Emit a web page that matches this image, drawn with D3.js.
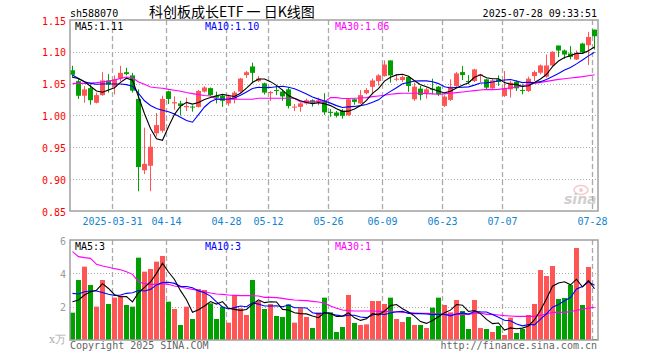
<!DOCTYPE html>
<html><head><meta charset="utf-8">
<script src="https://cdn.jsdelivr.net/npm/d3@7"></script>
<style>body{margin:0;background:#fff}svg{display:block}</style>
</head><body><div id="c"></div>
<script>
const dates=["2025-03-20","2025-03-21","2025-03-24","2025-03-25","2025-03-26","2025-03-27","2025-03-28","2025-03-31",
"2025-04-01","2025-04-02","2025-04-03","2025-04-07","2025-04-08","2025-04-09","2025-04-10","2025-04-11","2025-04-14","2025-04-15","2025-04-16","2025-04-17","2025-04-18","2025-04-21","2025-04-22","2025-04-23","2025-04-24","2025-04-25","2025-04-28","2025-04-29","2025-04-30",
"2025-05-06","2025-05-07","2025-05-08","2025-05-09","2025-05-12","2025-05-13","2025-05-14","2025-05-15","2025-05-16","2025-05-19","2025-05-20","2025-05-21","2025-05-22","2025-05-23","2025-05-26","2025-05-27","2025-05-28","2025-05-29","2025-05-30",
"2025-06-03","2025-06-04","2025-06-05","2025-06-06","2025-06-09","2025-06-10","2025-06-11","2025-06-12","2025-06-13","2025-06-16","2025-06-17","2025-06-18","2025-06-19","2025-06-20","2025-06-23","2025-06-24","2025-06-25","2025-06-26","2025-06-27","2025-06-30",
"2025-07-01","2025-07-02","2025-07-03","2025-07-04","2025-07-07","2025-07-08","2025-07-09","2025-07-10","2025-07-11","2025-07-14","2025-07-15","2025-07-16","2025-07-17","2025-07-18","2025-07-21","2025-07-22","2025-07-23","2025-07-24","2025-07-25","2025-07-28"];
const tickDates=["2025-03-31","2025-04-14","2025-04-28","2025-05-12","2025-05-26","2025-06-09","2025-06-23","2025-07-07","2025-07-28"];
const tickLabels=["2025-03-31","04-14","04-28","05-12","05-26","06-09","06-23","07-07","07-28"];
const openP=[1.071,1.054,1.031,1.043,1.020,1.032,1.055,1.045,1.058,1.068,1.063,1.026,0.914,0.921,0.972,0.976,1.038,1.019,1.019,1.013,1.014,1.0135,1.0375,1.043,1.031,1.031,1.019,1.0255,1.0375,1.0635,1.077,1.054,1.0505,1.035,1.040,1.0375,1.041,1.0125,1.0135,1.019,1.024,1.021,1.022,1.0057,1.0047,1.007,1.0005,1.0255,1.019,1.035,1.045,1.054,1.062,1.0865,1.0568,1.0557,1.0604,1.0255,1.0422,1.0349,1.0422,1.0453,1.0151,1.0245,1.0464,1.0682,1.0542,1.0542,1.063,1.0568,1.0427,1.0568,1.0307,1.0411,1.0531,1.0401,1.0385,1.062,1.0672,1.0609,1.0786,1.1099,1.1021,1.0974,1.088,1.113,1.1104,1.1349];
const highP=[1.078,1.059,1.046,1.049,1.036,1.068,1.065,1.063,1.078,1.075,1.067,1.041,0.981,0.971,1.004,1.031,1.039,1.030,1.023,1.028,1.016,1.040,1.046,1.044,1.0375,1.033,1.033,1.0385,1.059,1.070,1.083,1.062,1.0515,1.0385,1.046,1.041,1.044,1.018,1.020,1.0265,1.0255,1.028,1.035,1.010,1.007,1.010,1.0265,1.0265,1.040,1.043,1.058,1.065,1.0865,1.0865,1.0646,1.063,1.062,1.0516,1.0464,1.0437,1.0578,1.0464,1.0318,1.0568,1.0682,1.0776,1.0635,1.0734,1.0656,1.0578,1.0568,1.063,1.0698,1.0542,1.0552,1.049,1.061,1.0708,1.0802,1.0958,1.101,1.1099,1.1036,1.1089,1.1021,1.1141,1.1313,1.1349];
const lowP=[1.059,1.026,1.020,1.017,1.019,1.031,1.036,1.033,1.054,1.063,1.036,0.881,0.908,0.881,0.967,0.973,1.018,1.009,1.000,1.007,1.006,1.0125,1.036,1.031,1.019,1.0135,1.015,1.019,1.036,1.059,1.052,1.0525,1.033,1.023,1.032,1.023,1.011,1.007,1.006,1.017,1.014,1.016,1.001,0.998,0.997,0.995,0.9995,1.017,1.018,1.033,1.033,1.047,1.061,1.0515,1.054,1.0526,1.037,1.023,1.024,1.0266,1.0333,1.0307,1.0135,1.0229,1.0453,1.0557,1.049,1.0526,1.0526,1.0411,1.0411,1.0464,1.0292,1.0281,1.0385,1.0333,1.037,1.0542,1.0646,1.0594,1.0776,1.0917,1.0891,1.088,1.087,1.0984,1.0792,1.1036];
const closeP=[1.064,1.031,1.041,1.024,1.032,1.055,1.049,1.057,1.067,1.065,1.039,0.919,0.924,0.951,0.985,1.026,1.026,1.021,1.015,1.015,1.0125,1.0385,1.044,1.032,1.028,1.023,1.030,1.036,1.058,1.068,1.067,1.058,1.036,1.037,1.0385,1.030,1.015,1.014,1.019,1.024,1.020,1.024,1.005,1.0047,0.9995,0.9995,1.0255,1.0214,1.032,1.040,1.055,1.063,1.080,1.063,1.0578,1.0604,1.0464,1.0453,1.0323,1.0411,1.0411,1.0333,1.0297,1.0453,1.0661,1.0635,1.0526,1.0724,1.0646,1.0437,1.0552,1.0526,1.0422,1.0516,1.0427,1.039,1.0578,1.0682,1.0786,1.0786,1.100,1.1021,1.0958,1.0922,1.0984,1.0995,1.1234,1.1245];
const volume=[1.64,3.6,4.4,3.3,2.0,3.6,2.16,2.54,2.66,2.1,2.0,4.94,4.1,4.26,4.7,5.04,2.3,1.86,0.9,2.0,1.26,3.06,3.0,2.2,1.26,2.0,1.04,2.7,1.9,1.5,3.6,2.34,1.86,2.16,1.44,1.38,2.14,1.04,1.9,1.38,0.72,1.66,2.54,1.66,0.48,0.78,2.7,1.02,0.9,0.94,2.34,2.34,2.16,2.54,1.26,1.08,1.38,0.9,0.9,0.72,1.94,2.54,2.1,1.66,2.4,1.74,0.66,2.4,0.72,0.66,0.48,0.84,0.3,1.34,0.42,0.66,1.5,2.16,4.2,3.84,4.44,2.46,2.52,3.3,5.52,2.1,4.38,0.06];
// moving-average values before enough history is on the chart
const ma5Head=[1.060,1.058,1.053,1.046];
const ma10Head=[1.0635,1.058,1.053,1.0505,1.049,1.0495,1.0495,1.0495,1.0495];
const ma30P=[1.050,1.0505,1.0505,1.051,1.0516,1.0526,1.054,1.0557,1.0583,1.0604,1.0594,1.0526,1.049,1.0448,1.0437,1.0427,1.0411,1.0396,1.038,1.036,1.0344,1.0328,1.0313,1.0307,1.0255,1.0255,1.0255,1.0255,1.0255,1.0255,1.0255,1.0271,1.0271,1.0271,1.0271,1.0271,1.0271,1.0271,1.0214,1.0214,1.0214,1.0214,1.0214,1.0281,1.0281,1.0266,1.0266,1.027,1.0276,1.0281,1.0297,1.0307,1.0318,1.0333,1.0344,1.0349,1.0349,1.0349,1.0349,1.0344,1.0339,1.0333,1.0339,1.0349,1.036,1.037,1.038,1.0391,1.0401,1.0411,1.0406,1.0411,1.0422,1.0432,1.0443,1.0464,1.049,1.0505,1.052,1.0536,1.0552,1.0568,1.0578,1.0589,1.0599,1.061,1.0625,1.064];
const vma5Head=[2.3,2.4,2.7,2.9];
const vma10Head=[2.8,2.76,2.9,2.94,2.94,2.85,2.75,2.68,2.7];
const vma30=[5.3,5.0,4.94,4.9,4.54,4.44,4.36,4.28,4.22,4.1,3.94,3.5,3.38,3.34,3.34,3.38,3.34,3.24,3.18,3.1,3.04,2.96,2.9,2.82,2.76,2.74,2.7,2.68,2.66,2.66,2.66,2.64,2.56,2.56,2.54,2.5,2.44,2.4,2.38,2.36,2.32,2.28,2.22,2.04,1.9,1.8,1.76,1.74,1.74,1.74,1.74,1.72,1.72,1.7,1.68,1.66,1.64,1.62,1.6,1.6,1.58,1.56,1.54,1.54,1.54,1.54,1.54,1.6,1.62,1.54,1.54,1.5,1.46,1.44,1.42,1.42,1.42,1.42,1.48,1.56,1.66,1.66,1.66,1.7,1.78,1.84,1.92,1.96];
const priceTicks=[0.85,0.90,0.95,1.00,1.05,1.10,1.15];
const volTicks=[2,4,6];

function movingAvg(arr,n,head){return arr.map((v,i)=>i<n-1?head[i]:d3.mean(arr.slice(i-n+1,i+1)));}
const ma5P=movingAvg(closeP,5,ma5Head), ma10P=movingAvg(closeP,10,ma10Head);
const vma5=movingAvg(volume,5,vma5Head), vma10=movingAvg(volume,10,vma10Head);

const W=660,H=360,L=70,R=598,PT=20,PB=211,VT=240,VB=340;
const RED="#ff5555",GREEN="#00a000",FRAME="#a0a0a0",MONO="'DejaVu Sans Mono', monospace";
const svg=d3.select("#c").append("svg").attr("width",W).attr("height",H);
const idx=d3.range(dates.length);
const x=d3.scaleBand().domain(idx).range([L,R]).paddingInner(0).paddingOuter(0);
const y=d3.scaleLinear().domain([0.85,1.15]).range([PB,PT]);
const yv=d3.scaleLinear().domain([0,6]).range([VB,VT]);
const isUp=i=>closeP[i]>=openP[i];

// grids
function grid(scale,ticks,skip){
  svg.append("g").selectAll("line").data(ticks.filter(t=>!skip.includes(t))).join("line")
   .attr("x1",L).attr("x2",R).attr("y1",d=>Math.round(scale(d))+0.5).attr("y2",d=>Math.round(scale(d))+0.5)
   .attr("stroke","#aaa").attr("stroke-width",1).attr("stroke-dasharray","1,2");
}
grid(y,priceTicks,[0.85,1.15]);
grid(yv,volTicks,[6]);
const tickIdx=tickDates.map(d=>dates.indexOf(d));
[[PT,PB],[VT,VB]].forEach(([t,b])=>{
  svg.append("g").selectAll("line").data(tickIdx).join("line")
   .attr("x1",i=>x(i)+0.5).attr("x2",i=>x(i)+0.5).attr("y1",t).attr("y2",b)
   .attr("stroke","#aaa").attr("stroke-width",1.3).attr("stroke-dasharray","5,3");
});

// watermark
const wm=svg.append("g").attr("opacity",0.55);
wm.append("ellipse").attr("cx",581).attr("cy",190).attr("rx",7).attr("ry",4.5).attr("fill","none").attr("stroke","#f0a0a0").attr("stroke-width",1.6);
wm.append("circle").attr("cx",581).attr("cy",190).attr("r",2).attr("fill","#f0a0a0");
wm.append("text").attr("x",564).attr("y",204).attr("font-family","'DejaVu Sans', sans-serif").attr("font-style","italic").attr("font-weight","bold").attr("font-size",14).attr("fill","#aaa").text("sina");

// candles
const cg=svg.append("g");
cg.selectAll("line").data(idx).join("line")
 .attr("x1",i=>x(i)+2.5).attr("x2",i=>x(i)+2.5).attr("y1",i=>y(highP[i])).attr("y2",i=>y(lowP[i]))
 .attr("stroke",i=>isUp(i)?RED:GREEN).attr("stroke-width",1);
cg.selectAll("rect").data(idx).join("rect")
 .attr("x",i=>x(i)).attr("width",5)
 .attr("y",i=>y(Math.max(openP[i],closeP[i])))
 .attr("height",i=>Math.max(1,Math.abs(y(openP[i])-y(closeP[i]))))
 .attr("fill",i=>isUp(i)?RED:GREEN);

// volume bars
svg.append("g").selectAll("rect").data(idx).join("rect")
 .attr("x",i=>x(i)).attr("width",5).attr("y",i=>yv(volume[i])).attr("height",i=>VB-yv(volume[i]))
 .attr("fill",i=>isUp(i)?RED:GREEN);

// MA lines
function maLine(arr,scale,color){
  svg.append("path").datum(idx).attr("fill","none").attr("stroke",color).attr("stroke-width",1.1)
   .attr("d",d3.line().x(i=>x(i)+2.5).y(i=>scale(arr[i])));
}
maLine(ma30P,y,"#ff00ff");maLine(ma10P,y,"#0000ff");maLine(ma5P,y,"#000");
maLine(vma30,yv,"#ff00ff");maLine(vma10,yv,"#0000ff");maLine(vma5,yv,"#000");

// frames
svg.append("rect").attr("x",L).attr("y",PT).attr("width",R-L).attr("height",PB-PT).attr("fill","none").attr("stroke",FRAME).attr("stroke-width",1.5);
svg.append("rect").attr("x",L).attr("y",VT).attr("width",R-L).attr("height",VB-VT).attr("fill","none").attr("stroke",FRAME).attr("stroke-width",1.5);

// axes
const yAxis=d3.axisLeft(y).tickValues(priceTicks).tickFormat(d3.format(".2f")).tickSize(0).tickPadding(4);
const ga=svg.append("g").attr("transform",`translate(${L},0)`).call(yAxis);
ga.select(".domain").remove();
ga.selectAll("text").attr("font-family",MONO).attr("font-size",10).attr("fill","#ff0000").attr("dy","0.4em").attr("x",-4);
const vAxis=d3.axisLeft(yv).tickValues(volTicks).tickFormat(d3.format("d")).tickSize(0).tickPadding(4);
const gv=svg.append("g").attr("transform",`translate(${L},0)`).call(vAxis);
gv.select(".domain").remove();
gv.selectAll("text").attr("font-family",MONO).attr("font-size",10).attr("fill","#999").attr("dy","0.4em").attr("x",-4);
const xAxis=d3.axisBottom(x).tickValues(tickIdx).tickFormat((d,k)=>tickLabels[k]).tickSize(0).tickPadding(7);
const gx=svg.append("g").attr("transform",`translate(0,${PB})`).call(xAxis);
gx.select(".domain").remove();
gx.selectAll(".tick").attr("transform",i=>`translate(${x(i)+0.5},0)`);
gx.selectAll("text").attr("font-family",MONO).attr("font-size",10).attr("fill","#1084d0");

// header
const T=(tx,ty,s,o)=>{const t=svg.append("text").attr("x",tx).attr("y",ty).text(s).attr("font-family",MONO).attr("font-size",10).attr("fill","#000");Object.entries(o||{}).forEach(([k,v])=>t.attr(k,v));return t;};
T(70,16.5,"sh588070");
T(149,16.5,"科创板成长ETF 一 日K线图",{"font-family":"'Noto Sans CJK SC', sans-serif","font-size":14});
T(597,16.5,"2025-07-28 09:33:51",{"text-anchor":"end"});
const last=closeP.length-1;
T(75,30,"MA5:"+ma5P[last].toFixed(2));
T(205,30,"MA10:"+ma10P[last].toFixed(2),{fill:"#0000ff"});
T(335,30,"MA30:"+ma30P[last].toFixed(2),{fill:"#ff00ff"});
T(75,250,"MA5:"+Math.floor(vma5[last]));
T(205,250,"MA10:"+Math.floor(vma10[last]),{fill:"#0000ff"});
T(335,250,"MA30:"+Math.floor(vma30[last]),{fill:"#ff00ff"});
T(49,343,"x万",{"font-family":"'DejaVu Serif', serif","font-size":11,fill:"#b0b0b0"});
T(70,349,"Copyright 2025 SINA.COM",{fill:"#666"});
T(597,349,"http://finance.sina.com.cn",{fill:"#666","text-anchor":"end"});
</script></body></html>
